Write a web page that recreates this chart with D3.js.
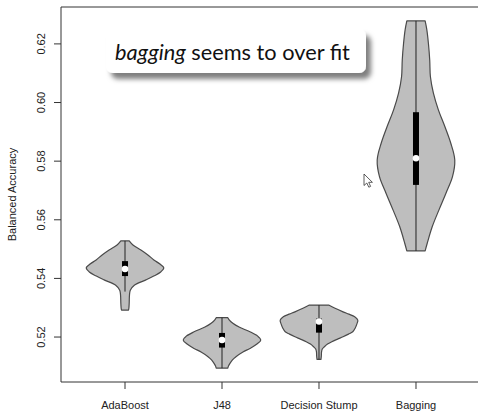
<!DOCTYPE html>
<html>
<head>
<meta charset="utf-8">
<script src="https://cdn.jsdelivr.net/npm/d3@7"></script>
<style>
  html, body { margin: 0; padding: 0; background: #fff; }
  svg { display: block; }
</style>
</head>
<body>
<div id="chart"></div>
<script>
// Classifiers compared
const categories = ["AdaBoost", "J48", "Decision Stump", "Bagging"];

// Estimated density profile of balanced accuracy per classifier: [accuracy, relative density]
const densityAdaBoost = [
  [0.5528, 0.108], [0.5514, 0.205], [0.5497, 0.41], [0.5480, 0.59], [0.5463, 0.744],
  [0.5449, 0.90], [0.5436, 1.0], [0.5422, 0.92], [0.5408, 0.74], [0.5395, 0.54],
  [0.5377, 0.24], [0.5360, 0.136], [0.5343, 0.115], [0.5316, 0.108], [0.5299, 0.10],
  [0.5292, 0.09]
];
const densityJ48 = [
  [0.5266, 0.15], [0.5258, 0.19], [0.5247, 0.28], [0.5234, 0.44], [0.5218, 0.72],
  [0.5203, 0.92], [0.5190, 1.0], [0.5176, 0.90], [0.5161, 0.72], [0.5149, 0.54],
  [0.5133, 0.36], [0.5122, 0.27], [0.5110, 0.205], [0.5101, 0.167], [0.5094, 0.15]
];
const densityStump = [
  [0.5309, 0.25], [0.5299, 0.40], [0.5286, 0.62], [0.5278, 0.77], [0.5269, 0.92],
  [0.5258, 1.0], [0.5244, 0.975], [0.5231, 0.935], [0.5218, 0.87], [0.5210, 0.76],
  [0.5201, 0.62], [0.5193, 0.48], [0.5184, 0.33], [0.5176, 0.22], [0.5167, 0.14],
  [0.5159, 0.085], [0.5149, 0.065], [0.5135, 0.06], [0.5124, 0.05]
];
const densityBagging = [
  [0.62785, 0.236], [0.6248, 0.28], [0.6202, 0.32], [0.6145, 0.354], [0.6088, 0.372],
  [0.6032, 0.449], [0.5975, 0.577], [0.5918, 0.744], [0.5861, 0.897], [0.5804, 1.0],
  [0.5747, 0.941], [0.5690, 0.77], [0.5633, 0.59], [0.5576, 0.418], [0.5520, 0.29],
  [0.5494, 0.236]
];
const densities = [densityAdaBoost, densityJ48, densityStump, densityBagging];

// Box plot summaries
const medians   = [0.5432, 0.5190, 0.5253, 0.5810];
const q1        = [0.5408, 0.5164, 0.5215, 0.5719];
const q3        = [0.5459, 0.5214, 0.5263, 0.5967];
const whiskerLo = [0.5355, 0.5094, 0.5124, 0.5494];
const whiskerHi = [0.5528, 0.5266, 0.5309, 0.62785];

// Axis ticks
const yTicks = [0.52, 0.54, 0.56, 0.58, 0.60, 0.62];
const yTickLabels = ["0.52", "0.54", "0.56", "0.58", "0.60", "0.62"];

const W = 478, H = 411;
const svg = d3.select("#chart").append("svg").attr("width", W).attr("height", H);

// Plot region (R style: 4% padding around data range)
const plot = { left: 61, top: 7, bottom: 382, right: 480 };
const allVals = densities.flat().map(d => d[0]);
const yMin = d3.min(allVals), yMax = d3.max(allVals);
const yPad = (yMax - yMin) * 0.04;
const y = d3.scaleLinear().domain([yMin - yPad, yMax + yPad]).range([plot.bottom, plot.top]);
const x = d3.scaleLinear().domain([0.5 - 0.16, 4.5 + 0.16]).range([plot.left, plot.right]);
const halfWidth = 0.4; // max violin half-width in category units
const w = d3.scaleLinear().domain([0, 1]).range([0, x(1 + halfWidth) - x(1)]);

const axisColor = "#333";
const textColor = "#222";
const font = "'Liberation Sans', Arial, Helvetica, sans-serif";

// Violins
const g = svg.append("g");
densities.forEach((dens, i) => {
  const cx = x(i + 1);
  const area = d3.area()
    .y(d => y(d[0]))
    .x0(d => cx - w(d[1]))
    .x1(d => cx + w(d[1]))
    .curve(d3.curveCatmullRom.alpha(0.5));
  g.append("path")
    .attr("d", area(dens))
    .attr("fill", "#bebebe")
    .attr("stroke", "#4a4a4a")
    .attr("stroke-width", 1.2)
    .attr("stroke-linejoin", "round");
  // whisker line
  g.append("line")
    .attr("x1", cx).attr("x2", cx)
    .attr("y1", y(whiskerLo[i])).attr("y2", y(whiskerHi[i]))
    .attr("stroke", "#222").attr("stroke-width", 1);
  // interquartile box
  g.append("rect")
    .attr("x", cx - 3).attr("width", 6)
    .attr("y", y(q3[i])).attr("height", y(q1[i]) - y(q3[i]))
    .attr("fill", "#000");
  // median
  g.append("circle")
    .attr("cx", cx).attr("cy", y(medians[i])).attr("r", 3.3)
    .attr("fill", "#fff");
});

// Frame (left, top, bottom)
svg.append("path")
  .attr("d", `M${plot.right},${plot.top}H${plot.left}V${plot.bottom}H${plot.right}`)
  .attr("fill", "none").attr("stroke", axisColor).attr("stroke-width", 1);

// Y axis
const yAxis = svg.append("g");
yTicks.forEach((t, i) => {
  yAxis.append("line")
    .attr("x1", plot.left - 7).attr("x2", plot.left)
    .attr("y1", y(t)).attr("y2", y(t))
    .attr("stroke", axisColor);
  yAxis.append("text")
    .attr("transform", `translate(45,${y(t)}) rotate(-90)`)
    .attr("text-anchor", "middle")
    .attr("font-family", font).attr("font-size", 11)
    .attr("fill", textColor)
    .text(yTickLabels[i]);
});
svg.append("text")
  .attr("transform", `translate(16,${(plot.top + plot.bottom) / 2}) rotate(-90)`)
  .attr("text-anchor", "middle")
  .attr("font-family", font).attr("font-size", 11)
  .attr("fill", textColor)
  .text("Balanced Accuracy");

// X axis
categories.forEach((c, i) => {
  const cx = x(i + 1);
  svg.append("line")
    .attr("x1", cx).attr("x2", cx)
    .attr("y1", plot.bottom).attr("y2", plot.bottom + 7)
    .attr("stroke", axisColor);
  svg.append("text")
    .attr("x", cx).attr("y", 409)
    .attr("text-anchor", "middle")
    .attr("font-family", font).attr("font-size", 11)
    .attr("fill", textColor)
    .text(c);
});

// Callout
const defs = svg.append("defs");
const f = defs.append("filter").attr("id", "shadow")
  .attr("x", "-10%").attr("y", "-30%").attr("width", "130%").attr("height", "180%");
f.append("feDropShadow")
  .attr("dx", 5).attr("dy", 6).attr("stdDeviation", 2.5)
  .attr("flood-color", "#000").attr("flood-opacity", 0.5);

const callout = svg.append("g");
callout.append("rect")
  .attr("x", 106).attr("y", 29).attr("width", 260).attr("height", 44)
  .attr("rx", 7)
  .attr("fill", "#fff")
  .attr("filter", "url(#shadow)");
const label = callout.append("text")
  .attr("x", 115).attr("y", 60)
  .attr("font-family", "Lato, 'Open Sans', sans-serif")
  .attr("font-size", 21)
  .attr("fill", "#111");
label.append("tspan").attr("font-style", "italic").text("bagging");
label.append("tspan").text(" seems to over fit");
const len = label.node().getComputedTextLength();
label.attr("font-size", 21 * 235 / len);

// Mouse pointer
svg.append("path")
  .attr("transform", "translate(364,174)")
  .attr("d", "M0,0 L0,11.5 L2.8,9 L4.8,13.2 L6.6,12.4 L4.7,8.3 L8.4,8.3 Z")
  .attr("fill", "#fff").attr("stroke", "#333").attr("stroke-width", 0.8)
  .attr("stroke-linejoin", "round");
</script>
</body>
</html>
